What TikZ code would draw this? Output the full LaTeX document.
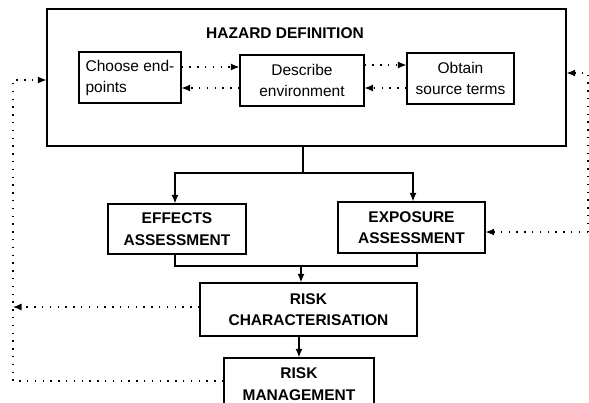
\documentclass[tikz,border=0pt]{standalone}
\usepackage{fontspec}
\setmainfont{Liberation Sans}
\usetikzlibrary{arrows.meta}
\begin{document}
\begin{tikzpicture}[x=1pt,y=-1pt,
  box/.style={draw, line width=1.2pt, inner sep=0pt, align=center,
    font=\fontsize{15.5}{21}\selectfont},
  capsbox/.style={box, font=\bfseries\fontsize{15.5}{21.5}\selectfont},
  flow/.style={line width=1.3pt, -{Latex[length=8.5pt,width=7pt]}},
  link/.style={line width=1.3pt},
  fb/.style={line width=1.2pt, dash pattern=on 1.4pt off 6.4pt},
  fbarrow/.style={fb, -{Latex[length=8.5pt,width=7pt]}}]
\useasboundingbox (0,0) rectangle (589,402);
\fill[white] (0,0) rectangle (589,402);

% hazard definition group
\node[draw, line width=1.2pt, minimum width=519pt, minimum height=137pt]
  (haz) at (306.5,77.5) {};
\node[font=\bfseries\fontsize{15.5}{20}\selectfont] (title) at (285,33)
  {HAZARD DEFINITION};
\node[box, align=left, minimum width=102pt, minimum height=51pt]
  (choose) at (130,77.5) {Choose end-\\points};
\node[box, minimum width=124pt, minimum height=51pt]
  (describe) at (302,80.5) {Describe\\environment};
\node[box, minimum width=107pt, minimum height=51pt]
  (obtain) at (460.5,78.5) {Obtain\\source terms};

% assessment and risk stages
\node[capsbox, minimum width=138pt, minimum height=50pt]
  (effects) at (177,229) {EFFECTS\\ASSESSMENT};
\node[capsbox, minimum width=147pt, minimum height=51pt]
  (exposure) at (411.5,227.5) {EXPOSURE\\ASSESSMENT};
\node[capsbox, minimum width=217pt, minimum height=53pt]
  (riskchar) at (308.5,309.5) {RISK\\CHARACTERISATION};
\node[capsbox, minimum width=150pt, minimum height=52pt]
  (riskman) at (299,384) {RISK\\MANAGEMENT};

% exchanges inside the hazard definition
\coordinate (cd) at ([yshift=10.5pt]choose.east);
\coordinate (dc) at ([yshift=-10.5pt]choose.east);
\coordinate (do) at ([yshift=15.5pt]describe.east);
\coordinate (od) at ([yshift=-9.5pt]obtain.west);
\draw[fbarrow] (cd) -- (cd -| describe.west);
\draw[fbarrow] (dc -| describe.west) -- (dc);
\draw[fbarrow] (do) -- (do -| obtain.west);
\draw[fbarrow] (od) -- (od -| describe.east);

% main flow
\coordinate (split) at ([xshift=-3.5pt]haz.south |- 0,173);
\draw[link] ([xshift=-3.5pt]haz.south) -- (split);
\draw[flow] (split) -| ([xshift=-2pt]effects.north);
\draw[flow] (split) -| ([xshift=1.5pt]exposure.north);
\coordinate (merge) at (301,266);
\draw[link] ([xshift=-2pt]effects.south) |- (merge)
  -| ([xshift=5.5pt]exposure.south);
\draw[flow] (merge) -- (merge |- riskchar.north);
\draw[flow] (riskchar.south -| riskman.north) -- (riskman.north);

% feedback loops
\coordinate (lt) at (13,80);
\coordinate (lb) at (13,381);
\draw[fbarrow] (riskman.west |- lb) -- (lb) -- (lt) -- (lt -| haz.west);
\draw[fbarrow] ([yshift=2.5pt]riskchar.west) -- (lb |- 0,307);
\coordinate (rt) at (588,73);
\coordinate (rb) at (588,232);
\draw[fbarrow] (rb) -- (rt) -- (rt -| haz.east);
\draw[fbarrow] (rb) -- (rb -| exposure.east);
\end{tikzpicture}
\end{document}
